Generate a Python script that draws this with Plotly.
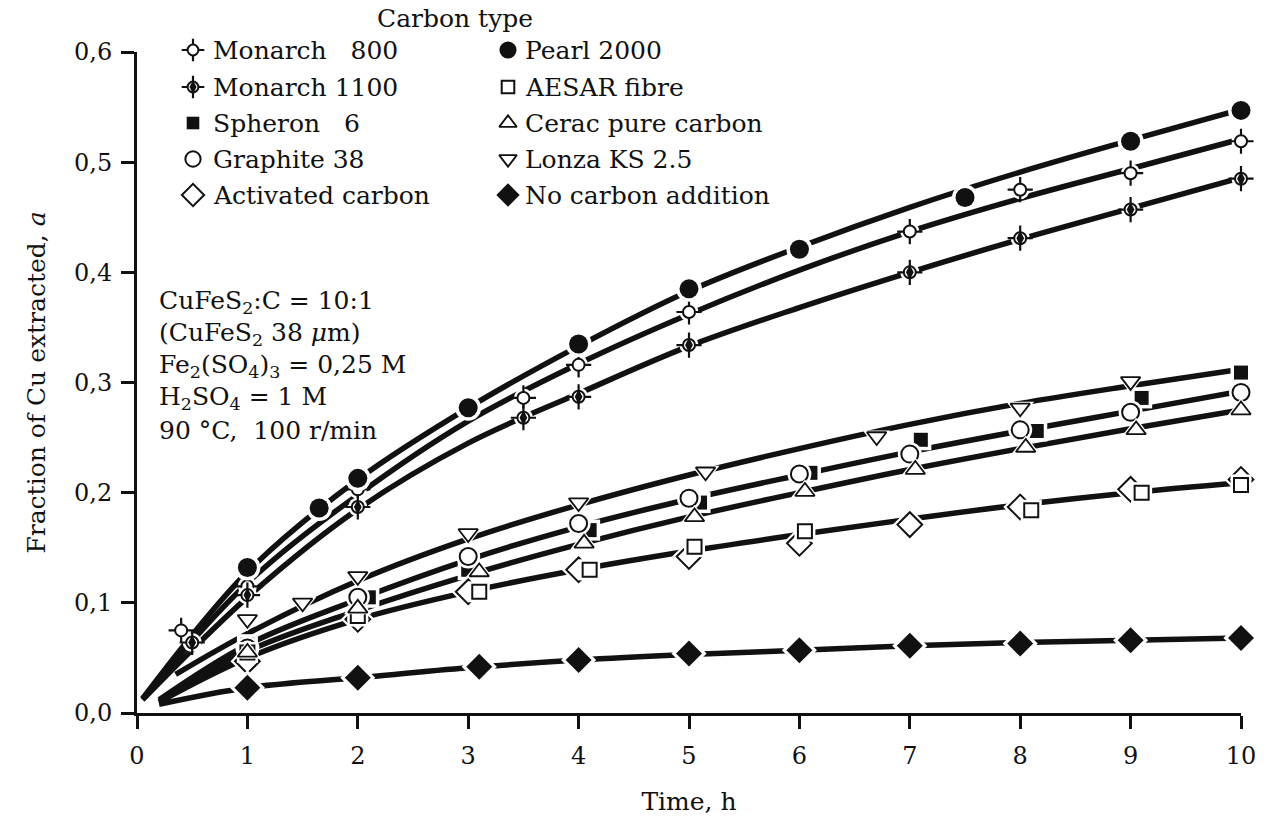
import plotly.graph_objects as go

# ---------------- data ----------------
pearl_t = [1, 1.65, 2, 3, 4, 5, 6, 7.5, 9, 10]
pearl_v = [0.132, 0.186, 0.213, 0.277, 0.335, 0.385, 0.421, 0.468, 0.519, 0.547]

m800_t = [0.4, 1, 2, 3.5, 4, 5, 7, 8, 9, 10]
m800_v = [0.075, 0.115, 0.203, 0.286, 0.316, 0.364, 0.437, 0.475, 0.490, 0.519]

m1100_t = [0.5, 1, 2, 3.5, 4, 5, 7, 8, 9, 10]
m1100_v = [0.064, 0.107, 0.187, 0.268, 0.287, 0.334, 0.400, 0.431, 0.457, 0.485]

spheron_t = [1, 2.1, 3, 4.1, 5.1, 6.1, 7.1, 8.15, 9.1, 10]
spheron_v = [0.062, 0.105, 0.130, 0.166, 0.191, 0.218, 0.248, 0.256, 0.286, 0.309]

graphite_t = [1, 2, 3, 4, 5, 6, 7, 8, 9, 10]
graphite_v = [0.059, 0.105, 0.142, 0.172, 0.195, 0.217, 0.235, 0.257, 0.273, 0.291]

aesar_t = [1, 2, 3.1, 4.1, 5.05, 6.05, 8.1, 9.1, 10]
aesar_v = [0.055, 0.088, 0.110, 0.130, 0.151, 0.165, 0.184, 0.200, 0.207]

cerac_t = [1, 2, 3.1, 4.05, 5.05, 6.05, 7.05, 8.05, 9.05, 10]
cerac_v = [0.055, 0.095, 0.128, 0.154, 0.178, 0.201, 0.221, 0.241, 0.257, 0.275]

lonza_t = [1, 1.5, 2, 3, 4, 5.15, 6.7, 8, 9]
lonza_v = [0.085, 0.100, 0.124, 0.163, 0.191, 0.219, 0.251, 0.277, 0.301]

activated_t = [1, 2, 3, 4, 5, 6, 7, 8, 9, 10]
activated_v = [0.047, 0.085, 0.110, 0.130, 0.142, 0.154, 0.171, 0.187, 0.203, 0.212]

nocarbon_t = [1, 2, 3.1, 4, 5, 6, 7, 8, 9, 10]
nocarbon_v = [0.023, 0.032, 0.042, 0.048, 0.054, 0.057, 0.061, 0.063, 0.066, 0.068]

# fitted curves drawn in the figure
fit_top_t = [0.05, 1, 2, 3, 4, 5, 6, 7, 8, 9, 10]
pearl_fit = [0.013, 0.128, 0.212, 0.277, 0.333, 0.383, 0.423, 0.459, 0.491, 0.520, 0.548]
m800_fit = [0.013, 0.118, 0.198, 0.265, 0.317, 0.362, 0.402, 0.437, 0.467, 0.494, 0.521]
m1100_fit = [0.012, 0.105, 0.185, 0.245, 0.290, 0.333, 0.368, 0.400, 0.430, 0.458, 0.486]

lonza_fit_t = [0.35, 1, 2, 3, 4, 5, 6, 7, 8, 9, 10]
lonza_fit = [0.035, 0.072, 0.120, 0.158, 0.189, 0.216, 0.240, 0.262, 0.281, 0.297, 0.312]

fit_low_t = [0.2, 1, 2, 3, 4, 5, 6, 7, 8, 9, 10]
graphite_fit = [0.012, 0.062, 0.103, 0.139, 0.169, 0.194, 0.216, 0.237, 0.256, 0.274, 0.292]
cerac_fit = [0.010, 0.056, 0.093, 0.125, 0.153, 0.178, 0.200, 0.221, 0.240, 0.258, 0.275]
aesar_fit = [0.010, 0.050, 0.085, 0.110, 0.130, 0.147, 0.162, 0.176, 0.189, 0.200, 0.209]
nocarbon_fit = [0.008, 0.023, 0.032, 0.041, 0.048, 0.053, 0.057, 0.061, 0.064, 0.066, 0.068]

x_ticks = [0, 1, 2, 3, 4, 5, 6, 7, 8, 9, 10]
y_ticks = [0.0, 0.1, 0.2, 0.3, 0.4, 0.5, 0.6]
y_ticktext = ["0,0", "0,1", "0,2", "0,3", "0,4", "0,5", "0,6"]

series_names = ["Monarch\u00a0\u00a0\u00a0800", "Monarch 1100", "Spheron\u00a0\u00a0\u00a06",
                "Graphite 38", "Activated carbon", "Pearl 2000", "AESAR fibre",
                "Cerac pure carbon", "Lonza KS 2.5", "No carbon addition"]
legend_title = "Carbon type"

# ---------------- styles ----------------
INK = "#111111"
FONT = "DejaVu Serif"

# each style: list of marker layers (symbol, size, fill, line width)
STYLES = {
    "m800": [("cross-thin-open", 18, INK, 2.2), ("circle", 12, "white", 2)],
    "m1100": [("cross-thin-open", 18, INK, 2.2), ("circle", 12, "white", 2), ("diamond-tall", 11, INK, 0)],
    "spheron": [("square", 14, INK, 0)],
    "graphite": [("circle", 17, "white", 2)],
    "activated": [("diamond", 19, "white", 2)],
    "pearl": [("circle", 19, INK, 0)],
    "aesar": [("square", 14, "white", 2)],
    "cerac": [("triangle-up", 17, "white", 1.8)],
    "lonza": [("triangle-down", 17, "white", 1.8)],
    "nocarbon": [("diamond", 20, INK, 0)],
}

series = [
    ("m800", m800_t, m800_v), ("m1100", m1100_t, m1100_v), ("spheron", spheron_t, spheron_v),
    ("graphite", graphite_t, graphite_v), ("activated", activated_t, activated_v),
    ("pearl", pearl_t, pearl_v), ("aesar", aesar_t, aesar_v), ("cerac", cerac_t, cerac_v),
    ("lonza", lonza_t, lonza_v), ("nocarbon", nocarbon_t, nocarbon_v),
]

fits = [
    (fit_top_t, pearl_fit), (fit_top_t, m800_fit), (fit_top_t, m1100_fit),
    (lonza_fit_t, lonza_fit), (fit_low_t, graphite_fit), (fit_low_t, cerac_fit),
    (fit_low_t, aesar_fit), (fit_low_t, nocarbon_fit),
]

fig = go.Figure()

for ft, fv in fits:
    fig.add_trace(go.Scatter(x=ft, y=fv, mode="lines", showlegend=False, hoverinfo="skip",
                             line=dict(color=INK, width=5.5, shape="spline", smoothing=1.0),
                             cliponaxis=False))


def add_marker_layers(key, xs, ys, xaxis="x", yaxis="y", halo=True, scale=1.0):
    layers = STYLES[key]
    if halo:
        base = layers[1] if layers[0][0].startswith("cross") else layers[0]
        fig.add_trace(go.Scatter(x=xs, y=ys, mode="markers", xaxis=xaxis, yaxis=yaxis,
                                 showlegend=False, hoverinfo="skip", cliponaxis=False,
                                 marker=dict(symbol=base[0], size=(base[1] + 7) * scale,
                                             color="white", line=dict(width=0))))
    for sym, size, fill, lw in layers:
        if sym.endswith("-open"):
            mk = dict(symbol=sym, size=size * scale, color=fill, line=dict(color=fill, width=lw))
        else:
            mk = dict(symbol=sym, size=size * scale, color=fill, line=dict(color=INK, width=lw))
        fig.add_trace(go.Scatter(x=xs, y=ys, mode="markers", xaxis=xaxis, yaxis=yaxis,
                                 showlegend=False, hoverinfo="skip", cliponaxis=False, marker=mk))


for key, xs, ys in series:
    add_marker_layers(key, xs, ys, halo=True)

# ---------------- layout in pixels ----------------
W, H = 1271, 828
PLOT_L, PLOT_R, PLOT_T, PLOT_B = 137, 1241, 52, 713

# custom legend, drawn on a full-figure pixel subplot (x2, y2)
leg_rows = [50, 87, 123, 159, 195]
leg_cols = [(193, 211), (508, 523)]
legend_keys = ["m800", "m1100", "spheron", "graphite", "activated",
               "pearl", "aesar", "cerac", "lonza", "nocarbon"]

annotations = []
for i, key in enumerate(legend_keys):
    col = leg_cols[i // 5]
    row = leg_rows[i % 5]
    add_marker_layers(key, [col[0]], [row], xaxis="x2", yaxis="y2", halo=False, scale=0.9)
    annotations.append(dict(x=col[1], y=row, xref="x2", yref="y2", text=series_names[i],
                            showarrow=False, xanchor="left", yanchor="middle",
                            font=dict(family=FONT, size=25, color=INK)))

annotations.append(dict(x=455, y=18, xref="x2", yref="y2", text=legend_title, showarrow=False,
                        xanchor="center", yanchor="middle", font=dict(family=FONT, size=25, color=INK)))

cond_lines = [
    "CuFeS<sub>2</sub>:C = 10:1",
    "(CuFeS<sub>2</sub> 38 <i>\u03bc</i>m)",
    "Fe<sub>2</sub>(SO<sub>4</sub>)<sub>3</sub> = 0,25 M",
    "H<sub>2</sub>SO<sub>4</sub> = 1 M",
    "90 \u00b0C,\u00a0 100 r/min",
]
cond_y = [302, 334, 366, 398, 430]
for txt, yy in zip(cond_lines, cond_y):
    annotations.append(dict(x=157, y=yy, xref="x2", yref="y2", text=txt, showarrow=False,
                            xanchor="left", yanchor="middle", font=dict(family=FONT, size=25, color=INK)))

fig.update_layout(
    width=W, height=H,
    margin=dict(l=0, r=0, t=0, b=0, pad=0),
    paper_bgcolor="white", plot_bgcolor="rgba(0,0,0,0)",
    showlegend=False,
    font=dict(family=FONT, color=INK),
    xaxis=dict(domain=[PLOT_L / W, PLOT_R / W], anchor="y",
               range=[0, 10], tickvals=x_ticks, ticktext=[str(v) for v in x_ticks],
               ticks="outside", ticklen=13, tickwidth=2.5, tickcolor=INK,
               showline=True, linewidth=3, linecolor=INK, showgrid=False, zeroline=False,
               tickfont=dict(family=FONT, size=24, color=INK), ticklabelstandoff=6,
               automargin=False,
               title=dict(text="Time, h", font=dict(family=FONT, size=25, color=INK), standoff=24)),
    yaxis=dict(domain=[(H - PLOT_B) / H, (H - PLOT_T) / H], anchor="x",
               range=[0, 0.6], tickvals=y_ticks, ticktext=y_ticktext,
               ticks="outside", ticklen=13, tickwidth=2.5, tickcolor=INK,
               showline=True, linewidth=3, linecolor=INK, showgrid=False, zeroline=False,
               tickfont=dict(family=FONT, size=24, color=INK), ticklabelstandoff=4,
               automargin=False,
               title=dict(text="Fraction of Cu extracted, <i>a</i>",
                          font=dict(family=FONT, size=25, color=INK), standoff=22)),
    xaxis2=dict(domain=[0, 1], anchor="y2", range=[0, W], visible=False, fixedrange=True),
    yaxis2=dict(domain=[0, 1], anchor="x2", range=[H, 0], visible=False, fixedrange=True),
    annotations=annotations,
)

fig.write_html("out.html")
